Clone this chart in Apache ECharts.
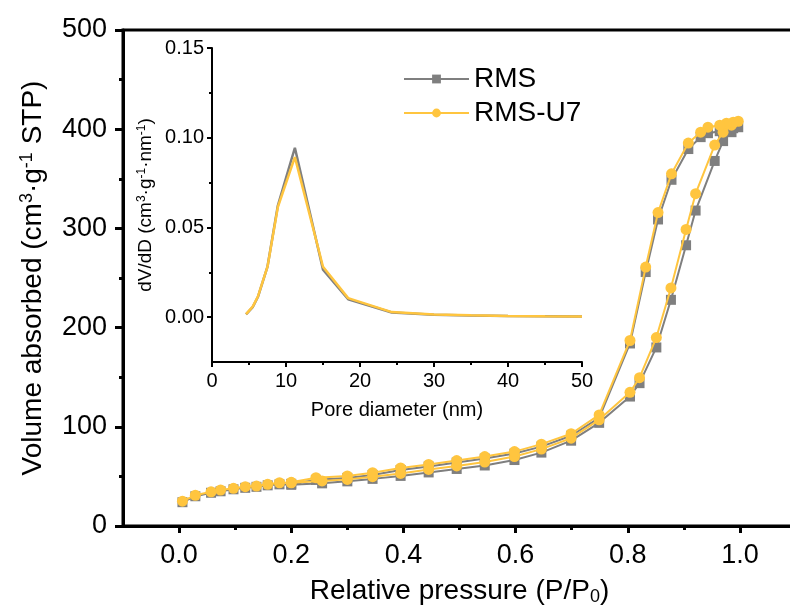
<!DOCTYPE html>
<html><head><meta charset="utf-8">
<script src="https://cdn.jsdelivr.net/npm/echarts@6/dist/echarts.min.js"></script>
<style>html,body{margin:0;padding:0;background:#fff}#c{width:790px;height:608px}</style>
</head><body><div id="c"></div>
<script>
// Isotherm: relative pressure for adsorption and desorption branches
const adsP = [0.006,0.029,0.057,0.074,0.097,0.118,0.138,0.158,0.179,0.200,0.255,0.300,0.345,0.395,0.445,0.495,0.545,0.598,0.646,0.699,0.749,0.804,0.821,0.851,0.877,0.904,0.921,0.955,0.970,0.985,0.997];
const desP = [0.988,0.976,0.964,0.943,0.930,0.908,0.878,0.854,0.832,0.804,0.749,0.699,0.646,0.598,0.545,0.495,0.445,0.395,0.345,0.300,0.244,0.200];
const rmsAds = [24,30,33.5,35,37,38.5,39.5,41,42,41.5,43,45,47.5,50.5,54,57.5,61,66.5,74,86,104,130.5,144,180,228,283,318,368,388,397,402];
const rmsDes = [401,400,398,396,392,380,349,309,256,184,109,91,80,73,68,64,60,56.5,51.5,48.5,46.5,42.5];
const u7Ads = [25,31,34.5,36.3,38,39.6,40.3,42,43.6,43.6,45.4,47,49.7,53,57,60.5,64.5,70,77.5,88.5,107,134.8,149.5,190,240,299,335,384,397,404,408];
const u7Des = [407,406,404,402,397,386,355,316,261,187,112,93,82.5,75,70,66,62,58.5,53.7,50.4,48.7,44];
// Inset: pore size distribution
const poreD = [4.6,5.5,6.2,7.5,8.9,11.2,15.0,18.4,24.3,30,35,40,45,50];
const rmsPSD = [0.0015,0.0056,0.0112,0.0282,0.0622,0.0944,0.0265,0.0100,0.0026,0.0014,0.0009,0.0006,0.0005,0.0004];
const u7PSD = [0.0017,0.0059,0.0114,0.0281,0.0614,0.0892,0.0281,0.0106,0.0028,0.0015,0.0010,0.0007,0.0005,0.0004];
// Tick labels
const xMajor = [0,0.2,0.4,0.6,0.8,1.0];
const xMinor = [0.1,0.3,0.5,0.7,0.9];
const insetYMajor = [0,0.05,0.10,0.15];
const insetYMinor = [0.025,0.075,0.125];
const seriesNames = ['RMS','RMS-U7'];

const GRAY = '#7f7f7f', YEL = '#ffc53f';
const FF = 'Liberation Sans, Arial, sans-serif';
const pair = (xs, ys) => xs.map((x,i)=>[x, ys[i]]);

const chart = echarts.init(document.getElementById('c'), null, {renderer:'canvas'});
chart.setOption({
  animation:false,
  textStyle:{fontFamily:FF, color:'#000'},
  legend:{
    data:seriesNames, orient:'vertical', left:398, top:59,
    itemWidth:65, itemHeight:11, itemGap:4,
    textStyle:{fontFamily:FF, fontSize:28, color:'#000', lineHeight:30, padding:[0,0,0,0]}
  },
  grid:[
    {left:123, top:30, right:-6, bottom:82, show:true, borderColor:'#000', borderWidth:3, backgroundColor:'transparent', containLabel:false, outerBoundsMode:'none'},
    {left:212, top:48, right:208, bottom:246, containLabel:false, outerBoundsMode:'none'}
  ],
  xAxis:[
    {gridIndex:0, type:'value', min:-0.1, max:1.1, interval:0.1, position:'bottom',
     name:'{a|Relative pressure (P/P}{s|0}{a|)}', nameLocation:'middle', nameGap:50,
     nameTextStyle:{rich:{a:{fontSize:28,fontFamily:FF,color:'#000'}, s:{fontSize:18,fontFamily:FF,color:'#000',verticalAlign:'bottom',padding:[12,0,0,0]}}},
     axisLine:{onZero:false, lineStyle:{color:'#000',width:3}},
     axisTick:{show:true, customValues:xMajor, length:7, lineStyle:{width:3,color:'#000'}},
     axisLabel:{customValues:xMajor, fontSize:27, fontFamily:FF, color:'#000', margin:16, formatter:v=>v.toFixed(1)},
     splitLine:{show:false}},
    {gridIndex:0, type:'value', min:-0.1, max:1.1, interval:0.1, position:'bottom',
     axisLine:{show:false, onZero:false}, axisLabel:{show:false}, splitLine:{show:false},
     axisTick:{show:true, customValues:xMinor, length:4, lineStyle:{width:3,color:'#000'}}},
    {gridIndex:1, type:'value', min:0, max:50, interval:10,
     name:'Pore diameter (nm)', nameLocation:'middle', nameGap:38,
     nameTextStyle:{fontSize:20, fontFamily:FF, color:'#000'},
     axisLine:{onZero:false, lineStyle:{color:'#000',width:2}},
     axisTick:{show:true, length:5, lineStyle:{width:2,color:'#000'}},
     minorTick:{show:true, splitNumber:2, length:3, lineStyle:{width:2,color:'#000'}},
     axisLabel:{fontSize:20, fontFamily:FF, color:'#000', margin:9},
     splitLine:{show:false}, minorSplitLine:{show:false}}
  ],
  yAxis:[
    {gridIndex:0, type:'value', min:0, max:500, interval:100,
     name:'{a|Volume absorbed (cm}{s|3}{a|·g}{s|-1}{a| STP)}', nameLocation:'middle', nameGap:75,
     nameTextStyle:{rich:{a:{fontSize:28,fontFamily:FF,color:'#000'}, s:{fontSize:18,fontFamily:FF,color:'#000',verticalAlign:'top',padding:[0,0,12,0]}}},
     axisLine:{onZero:false, lineStyle:{color:'#000',width:3}},
     axisTick:{show:true, length:8, lineStyle:{width:3,color:'#000'}},
     minorTick:{show:true, splitNumber:2, length:4, lineStyle:{width:3,color:'#000'}},
     axisLabel:{fontSize:27, fontFamily:FF, color:'#000', margin:16},
     splitLine:{show:false}, minorSplitLine:{show:false}},
    {gridIndex:1, type:'value', min:-0.025, max:0.15, interval:0.025, position:'left',
     name:'{a|dV/dD (cm}{s|3}{a|·g}{s|-1}{a|·nm}{s|-1}{a|)}', nameLocation:'middle', nameGap:56,
     nameTextStyle:{rich:{a:{fontSize:19,fontFamily:FF,color:'#000'}, s:{fontSize:12,fontFamily:FF,color:'#000',verticalAlign:'top',padding:[0,0,8,0]}}},
     axisLine:{onZero:false, lineStyle:{color:'#000',width:2}},
     axisTick:{show:true, customValues:insetYMajor, length:5, lineStyle:{width:2,color:'#000'}},
     axisLabel:{customValues:insetYMajor, fontSize:20, fontFamily:FF, color:'#000', margin:8, formatter:v=>v.toFixed(2)},
     splitLine:{show:false}},
    {gridIndex:1, type:'value', min:-0.025, max:0.15, interval:0.025, position:'left',
     axisLine:{show:false, onZero:false}, axisLabel:{show:false}, splitLine:{show:false},
     axisTick:{show:true, customValues:insetYMinor, length:3, lineStyle:{width:2,color:'#000'}}}
  ],
  series:[
    {name:'RMS', type:'line', xAxisIndex:0, yAxisIndex:0, data:pair(adsP,rmsAds).concat(pair(desP,rmsDes)),
     symbol:'rect', symbolSize:10, color:GRAY, lineStyle:{width:2,color:GRAY}, itemStyle:{color:GRAY}, z:3},
    {name:'RMS-U7', type:'line', xAxisIndex:0, yAxisIndex:0, data:pair(adsP,u7Ads).concat(pair(desP,u7Des)),
     symbol:'circle', symbolSize:11, color:YEL, lineStyle:{width:2,color:YEL}, itemStyle:{color:YEL}, z:4},
    {name:'RMS', type:'line', xAxisIndex:2, yAxisIndex:1, data:pair(poreD,rmsPSD),
     showSymbol:false, symbol:'none', color:GRAY, lineStyle:{width:2.5,color:GRAY}, z:3},
    {name:'RMS-U7', type:'line', xAxisIndex:2, yAxisIndex:1, data:pair(poreD,u7PSD),
     showSymbol:false, symbol:'none', color:YEL, lineStyle:{width:2.5,color:YEL}, z:4}
  ]
});
</script></body></html>
